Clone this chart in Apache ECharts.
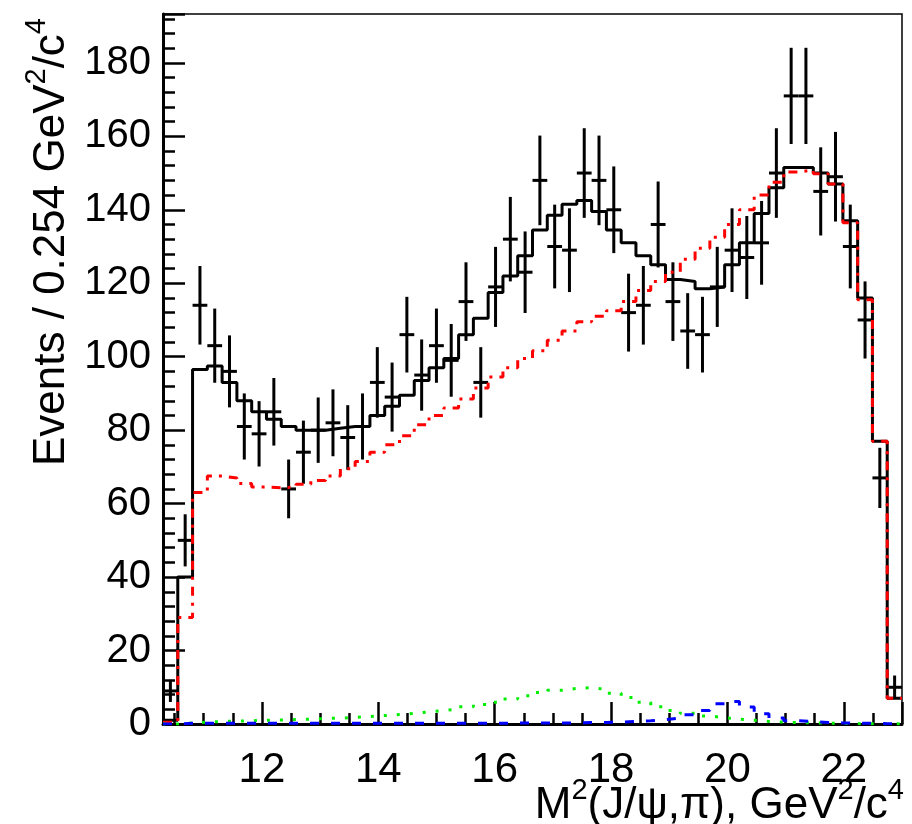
<!DOCTYPE html>
<html><head><meta charset="utf-8">
<script src="https://cdn.jsdelivr.net/npm/echarts@6/dist/echarts.min.js"></script>
<style>html,body{margin:0;padding:0;background:#fff}#c{width:912px;height:824px}</style>
</head><body><div id="c"></div>
<script>
// Binning of the histogram: 50 bins of 0.254 GeV^2/c^4 starting at 10.3
const xMin = 10.3, binWidth = 0.254, nBins = 50;
const xMax = 23.0, yMax = 193.3;

// Data points (events per bin) and their error bars
const dataCounts = [9, 50, 114, 103, 96, 81, 79, 85, 64, 74,
  80, 82, 78, 81, 93, 89, 106, 95, 103, 99,
  115, 93, 119, 132, 123, 148, 130, 129, 150, 148,
  140, 112, 114, 136, 115, 107, 106, 119, 129, 127,
  131, 150, 171, 171, 145, 149, 130, 110, 67, 10];
const dataErrors = [3.0, 7.1, 10.7, 10.1, 9.8, 9.0, 8.9, 9.2, 8.0, 8.6,
  8.9, 9.1, 8.8, 9.0, 9.6, 9.4, 10.3, 9.7, 10.1, 9.9,
  10.7, 9.6, 10.9, 11.5, 11.1, 12.2, 11.4, 11.4, 12.2, 12.2,
  11.8, 10.6, 10.7, 11.7, 10.7, 10.3, 10.3, 10.9, 11.4, 11.3,
  11.4, 12.2, 13.1, 13.1, 12.0, 12.2, 11.4, 10.5, 8.2, 3.2];

// Total fit (black solid)
const totalFit = [1, 40, 96.5, 97.5, 93, 88, 85, 83, 81, 80,
  80, 80.5, 81, 81, 84, 86.5, 89.5, 93.5, 97, 99.5,
  106, 110.5, 117.5, 122, 127.5, 134.5, 138.5, 141.5, 142.5, 139.5,
  134.5, 131, 127.5, 125, 121, 120.5, 118.5, 119, 125, 131,
  139, 146, 151.5, 151.5, 150, 147, 137, 116, 77, 7];

// Background component (red dash-dot)
const bkgRed = [0.5, 29, 63, 67.5, 67, 65.5, 64.5, 64.3, 64.5, 65.3,
  66.3, 67.5, 69.5, 71.5, 74, 76, 78.5, 81.5, 84, 86,
  88.5, 91.5, 94.5, 97, 99.5, 101.6, 104.5, 107, 109.5, 111,
  112.5, 115, 118, 120.5, 123, 126.5, 129.5, 132.5, 136, 140,
  144, 147.5, 150.3, 150.8, 149.8, 147, 136.5, 115.5, 77, 7];

// Component (green dotted)
const compGreen = [0, 0.3, 0.5, 0.7, 0.8, 0.9, 1.0, 1.1, 1.2, 1.3,
  1.5, 1.6, 1.8, 2.0, 2.3, 2.6, 2.9, 3.3, 3.7, 4.1,
  4.7, 5.3, 5.9, 6.8, 7.7, 8.6, 9.2, 9.7, 9.9, 9.4,
  8.4, 7.2, 5.9, 4.7, 3.7, 2.9, 2.2, 1.7, 1.3, 1.0,
  0.7, 0.5, 0.4, 0.3, 0.2, 0.2, 0.1, 0.1, 0.1, 0];

// Component (blue dashed)
const compBlue = [0, 0.2, 0.2, 0.2, 0.2, 0.2, 0.2, 0.2, 0.2, 0.2,
  0.2, 0.2, 0.2, 0.2, 0.2, 0.2, 0.2, 0.2, 0.2, 0.2,
  0.2, 0.2, 0.2, 0.3, 0.3, 0.3, 0.3, 0.3, 0.4, 0.4,
  0.5, 0.7, 0.9, 1.2, 1.6, 2.5, 3.7, 5.5, 6.1, 4.6,
  2.8, 1.6, 0.9, 0.7, 0.4, 0.3, 0.2, 0.2, 0.1, 0.1];

// Tick labels
const xTickLabels = [12, 14, 16, 18, 20, 22];
const yTickLabels = [0, 20, 40, 60, 80, 100, 120, 140, 160, 180];

const edge = i => +(xMin + i * binWidth).toFixed(4);
function stepData(vals) {
  const d = vals.map((v, i) => [edge(i), v]);
  d.push([edge(nBins), vals[nBins - 1]]);
  return d;
}
const pointData = dataCounts.map((v, i) => [ (edge(i) + edge(i + 1)) / 2, v, dataErrors[i], edge(i), edge(i + 1) ]);

const FONT = '"Liberation Sans", Arial, Helvetica, sans-serif';
const titleRich = {
  a: { fontFamily: FONT, fontSize: 44, lineHeight: 60, fill: '#000', color: '#000' },
  s: { fontFamily: FONT, fontSize: 29, lineHeight: 14, fill: '#000', color: '#000', verticalAlign: 'top' }
};
const chart = echarts.init(document.getElementById('c'), null, { renderer: 'canvas' });
chart.setOption({
  animation: false,
  backgroundColor: '#fff',
  grid: { left: 163, right: 10, top: 14, bottom: 100, show: true, borderColor: '#000', borderWidth: 1.5, backgroundColor: 'transparent' },
  xAxis: {
    type: 'value', min: xMin, max: xMax, minInterval: 2, maxInterval: 2,
    axisLine: { show: true, onZero: false, lineStyle: { color: '#000', width: 3 } },
    axisTick: { show: true, inside: true, length: 22, lineStyle: { color: '#000', width: 2.5 } },
    minorTick: { show: true, splitNumber: 4, length: 11, lineStyle: { color: '#000', width: 2.5 } },
    splitLine: { show: false },
    axisLabel: {
      color: '#000', fontFamily: FONT, fontSize: 42, margin: 25,
      formatter: v => xTickLabels.some(t => Math.abs(t - v) < 1e-6) ? String(Math.round(v)) : ''
    }
  },
  yAxis: {
    type: 'value', min: 0, max: yMax, interval: 20,
    axisLine: { show: true, onZero: false, lineStyle: { color: '#000', width: 3 } },
    axisTick: { show: true, inside: true, length: 22, lineStyle: { color: '#000', width: 2.5 } },
    minorTick: { show: true, splitNumber: 5, length: 12, lineStyle: { color: '#000', width: 2.5 } },
    splitLine: { show: false },
    axisLabel: {
      color: '#000', fontFamily: FONT, fontSize: 40, margin: 12,
      formatter: v => yTickLabels.some(t => Math.abs(t - v) < 1e-6) ? String(Math.round(v)) : ''
    }
  },
  graphic: [
    {
      type: 'text', x: 52, y: 18, rotation: Math.PI / 2,
      style: {
        text: '{a|Events / 0.254 GeV}{s|2}{a|/c}{s|4}',
        align: 'right', verticalAlign: 'middle', rich: titleRich
      }
    },
    {
      type: 'text', x: 904, y: 806,
      style: {
        text: '{a|M}{s|2}{a|(J/ψ,π), GeV}{s|2}{a|/c}{s|4}',
        align: 'right', verticalAlign: 'middle', rich: titleRich
      }
    }
  ],
  series: [
    {
      name: 'total', type: 'line', step: 'end', data: stepData(totalFit), showSymbol: false, z: 3,
      lineStyle: { color: '#000', width: 3 }
    },
    {
      name: 'data', type: 'custom', data: pointData, z: 4,
      renderItem: (params, api) => {
        const xc = api.value(0), y = api.value(1), e = api.value(2), xl = api.value(3), xh = api.value(4);
        const pL = api.coord([xl, y]), pR = api.coord([xh, y]);
        const pT = api.coord([xc, y + e]), pB = api.coord([xc, Math.max(0, y - e)]);
        return { type: 'group', children: [
          { type: 'line', shape: { x1: pL[0], y1: pL[1], x2: pR[0], y2: pR[1] }, style: { stroke: '#000', lineWidth: 3 } },
          { type: 'line', shape: { x1: pT[0], y1: pT[1], x2: pB[0], y2: pB[1] }, style: { stroke: '#000', lineWidth: 3 } }
        ] };
      }
    },
    {
      name: 'background', type: 'line', step: 'end', data: stepData(bkgRed), showSymbol: false, z: 5,
      lineStyle: { color: '#ff0000', width: 3, type: [9, 7, 3, 7] }
    },
    {
      name: 'green', type: 'line', step: 'end', data: stepData(compGreen), showSymbol: false, z: 6,
      lineStyle: { color: '#00ee00', width: 3, type: [3, 10] }
    },
    {
      name: 'blue', type: 'line', step: 'end', data: stepData(compBlue), showSymbol: false, z: 7,
      lineStyle: { color: '#0000ff', width: 3, type: [9, 12] }
    }
  ]
});
</script>
</body></html>
